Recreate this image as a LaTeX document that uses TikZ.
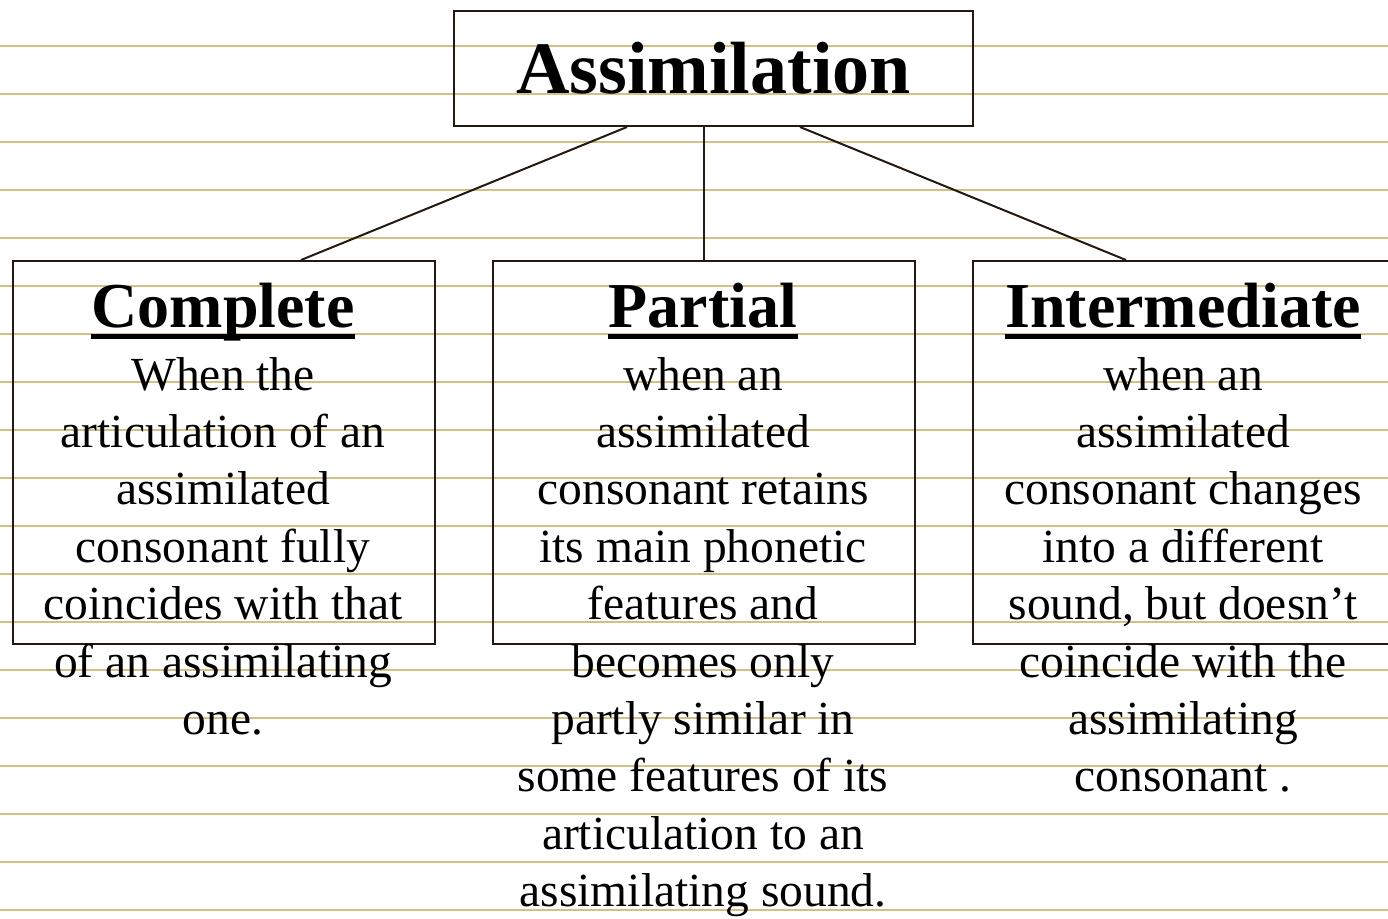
\documentclass[tikz,border=0pt]{standalone}
\usepackage{fontspec}
\setmainfont{Liberation Serif}
\definecolor{ruling}{RGB}{210,192,134}
\definecolor{ink}{RGB}{35,25,15}
\tikzset{
  box/.style={draw=ink, line width=1pt, inner sep=0pt, anchor=north west,
    minimum width=211pt, minimum height=191.5pt},
  head/.style={inner sep=0pt, anchor=base, font=\fontsize{32}{38}\selectfont\bfseries},
  body/.style={inner sep=0pt, anchor=base, align=center, font=\fontsize{23.75}{28.7}\selectfont},
  uline/.style={line width=2.5pt}
}
\begin{document}
\begin{tikzpicture}[x=0.5pt, y=-0.5pt]
    \useasboundingbox (0,0) rectangle (1388,918);
    \clip (0,0) rectangle (1388,918);
    \foreach \k in {0,...,18}
      \draw[ruling, line width=1pt] (0,{46+48*\k}) -- (1388,{46+48*\k});
    \node[box, minimum width=259.5pt, minimum height=57.5pt,
      font=\fontsize{37}{44}\selectfont\bfseries] (title) at (453,10) {Assimilation};
    \node[box] (complete) at (12,260) {};
    \node[box] (partial) at (492,260) {};
    \node[box] (inter) at (972,260) {};
    \draw[ink, line width=1pt] ([xshift=-43.25pt]title.south) -- ([xshift=38.5pt]complete.north);
    \draw[ink, line width=1pt] (title.south -| partial.north) -- (partial.north);
    \draw[ink, line width=1pt] ([xshift=43.25pt]title.south) -- ([xshift=-29pt]inter.north);
    \node[head] (hdcomplete) at (223,327) {Complete};
    \node[head] (hdpartial) at (703,327) {Partial};
    \node[head] (hdinter) at (1183,327) {Intermediate};
    \foreach \h in {hdcomplete,hdpartial,hdinter}
      \draw[uline] ([yshift=-4.75pt]\h.base west) -- ([yshift=-4.75pt]\h.base east);
    % base of a multi-line node is its last line
    \node[body] (txcomplete) at (223,734.4) {When the\\articulation of an\\assimilated\\consonant fully\\coincides with that\\of an assimilating\\one.};
    \node[body] (txpartial) at (703,906.6) {when an\\assimilated\\consonant retains\\its main phonetic\\features and\\becomes only\\partly similar in\\some features of its\\articulation to an\\assimilating sound.};
    \node[body] (txinter) at (1183,791.8) {when an\\assimilated\\consonant changes\\into a different\\sound, but doesn’t\\coincide with the\\assimilating\\consonant .};
  \end{tikzpicture}
\end{document}
